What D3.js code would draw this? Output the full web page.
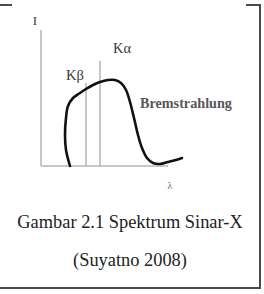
<!DOCTYPE html>
<html>
<head>
<meta charset="utf-8">
<script src="https://cdn.jsdelivr.net/npm/d3@7"></script>
<style>
  body { margin: 0; background: #fff; }
  text { font-family: "Liberation Serif", "Times New Roman", serif; }
</style>
</head>
<body>
<svg width="264" height="294"></svg>
<script>
// in chart units (lambda, I)
var curveLambda = [29, 25, 24, 25, 27, 32, 39, 45, 52, 59, 67, 74, 80, 85, 89, 93, 97, 101, 106, 112, 119, 127, 135, 141];
var curveI = [0, 16, 31, 48, 60, 68, 73, 77, 81, 84, 86, 86, 83, 76, 64, 48, 31, 18, 8, 3, 2, 4, 6, 8];
var lineNames = ["K\u03b2", "K\u03b1"];
var lineLambda = [45, 59];
var lineTop = [83, 105];
var captionLines = ["Gambar 2.1 Spektrum Sinar-X", "(Suyatno 2008)"];

var svg = d3.select("svg");

var x = d3.scaleLinear([0, 127], [41, 168]);
var y = d3.scaleLinear([0, 136], [166, 30]);

// frame
var frame = svg.append("g").attr("stroke", "#4a4a4a").attr("stroke-width", 2).attr("fill", "none");
frame.append("path").attr("d", "M0,5H12");
frame.append("path").attr("d", "M246,5H260V288H0");

// axes (plain lines, no ticks)
var axisColor = "#b4b4b4";
svg.append("line")
    .attr("x1", x(0)).attr("x2", x(0))
    .attr("y1", y(0)).attr("y2", y(136))
    .attr("stroke", axisColor).attr("stroke-width", 1.5);
svg.append("line")
    .attr("x1", x(0)).attr("x2", x(127))
    .attr("y1", y(0)).attr("y2", y(0))
    .attr("stroke", axisColor).attr("stroke-width", 1.5);

// characteristic lines
svg.selectAll("line.peak")
    .data(lineLambda)
    .enter()
        .append("line")
        .attr("class", "peak")
        .attr("x1", function(d) { return x(d); })
        .attr("x2", function(d) { return x(d); })
        .attr("y1", y(0))
        .attr("y2", function(d, i) { return y(lineTop[i]); })
        .attr("stroke", axisColor)
        .attr("stroke-width", 1.5);

// bremsstrahlung curve
var points = curveLambda.map(function(d, i) { return [d, curveI[i]]; });
svg.append("path")
    .datum(points)
    .attr("d", d3.line()
        .x(function(d) { return x(d[0]); })
        .y(function(d) { return y(d[1]); })
        .curve(d3.curveCatmullRom))
    .attr("fill", "none")
    .attr("stroke", "#111")
    .attr("stroke-width", 2.6)
    .attr("stroke-linecap", "round");

// labels
var labelColor = "#3a3a3a";
svg.append("text").attr("x", x(0) - 6).attr("y", 25).attr("font-size", 13)
    .attr("fill", labelColor).attr("text-anchor", "middle").text("I");
svg.append("text").attr("x", x(lineLambda[0]) - 11).attr("y", 80).attr("font-size", 14.5)
    .attr("fill", labelColor).attr("text-anchor", "middle").text(lineNames[0]);
svg.append("text").attr("x", x(lineLambda[1]) + 22).attr("y", 53).attr("font-size", 14.5)
    .attr("fill", labelColor).attr("text-anchor", "middle").text(lineNames[1]);
svg.append("text").attr("x", 140).attr("y", 108).attr("font-size", 14.2)
    .attr("fill", labelColor).attr("font-weight", "bold").attr("opacity", 0.85).text("Bremstrahlung");
svg.append("text").attr("x", 170).attr("y", 189).attr("font-size", 10)
    .attr("fill", "#666").attr("text-anchor", "middle").text("\u03bb");

// caption
svg.selectAll("text.caption")
    .data(captionLines)
    .enter()
        .append("text")
        .attr("class", "caption")
        .attr("x", 130)
        .attr("y", function(d, i) { return 228 + i * 38; })
        .attr("text-anchor", "middle")
        .attr("font-size", 18.4)
        .attr("fill", "#222")
        .text(function(d) { return d; });
</script>
</body>
</html>
